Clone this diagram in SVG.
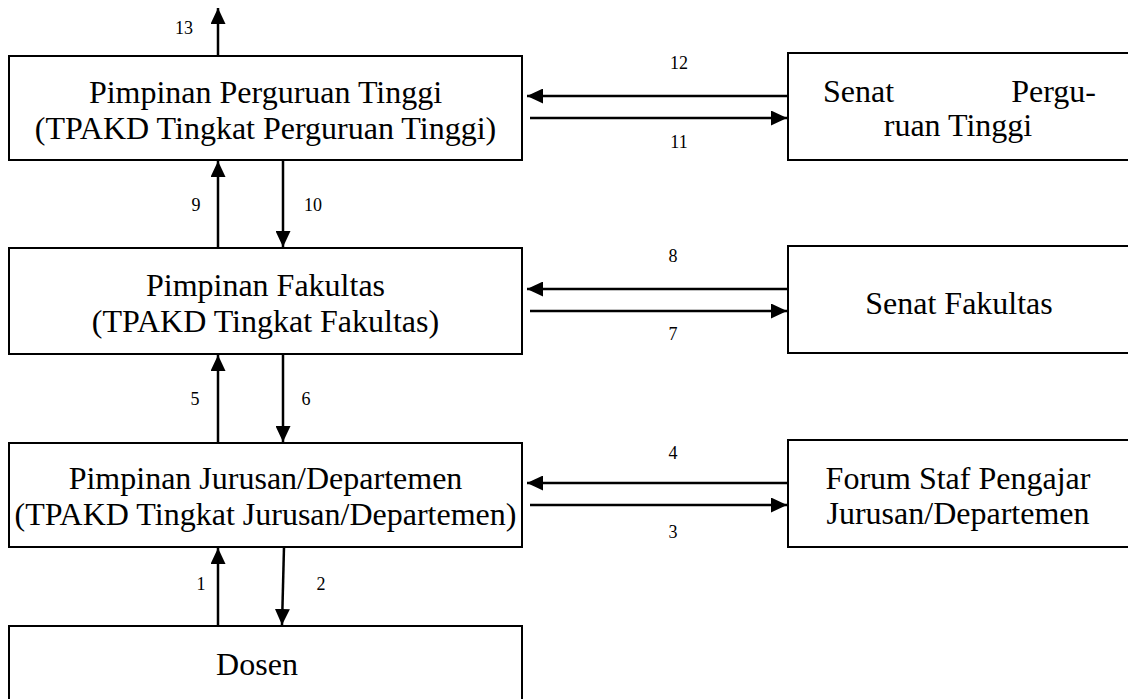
<svg xmlns="http://www.w3.org/2000/svg" width="1128" height="699" viewBox="0 0 1128 699">
<style>
.box{fill:#fff;stroke:#000;stroke-width:2}
.t{font-family:"Liberation Serif","Times New Roman",serif;font-size:32px;fill:#000;text-anchor:middle}
.n{font-family:"Liberation Serif","Times New Roman",serif;font-size:18px;fill:#000;text-anchor:middle}
.c{stroke:#000;stroke-width:2.5;fill:none;marker-end:url(#ah)}
</style>
<defs>
<marker id="ah" markerUnits="userSpaceOnUse" markerWidth="16" markerHeight="15" refX="16" refY="7.5" orient="auto">
<path d="M0,0 L16,7.5 L0,15 z" fill="#000"/>
</marker>
</defs>
<rect width="1128" height="699" fill="#fff"/>
<g id="n-pt">
<rect class="box" x="9" y="56" width="513" height="104"/>
<text class="t" x="265.5" y="103">Pimpinan Perguruan Tinggi</text>
<text class="t" x="265.5" y="139">(TPAKD Tingkat Perguruan Tinggi)</text>
</g>
<g id="n-fak">
<rect class="box" x="9" y="248" width="513" height="106"/>
<text class="t" x="265.5" y="296">Pimpinan Fakultas</text>
<text class="t" x="265.5" y="332">(TPAKD Tingkat Fakultas)</text>
</g>
<g id="n-jur">
<rect class="box" x="9" y="443" width="513" height="104"/>
<text class="t" x="265.5" y="489">Pimpinan Jurusan/Departemen</text>
<text class="t" x="265.5" y="525">(TPAKD Tingkat Jurusan/Departemen)</text>
</g>
<g id="n-dosen">
<rect class="box" x="9" y="626" width="513" height="90"/>
<text class="t" x="257" y="675">Dosen</text>
</g>
<g id="n-senat-pt">
<rect class="box" x="788" y="53" width="350" height="107"/>
<text class="t" x="823" y="102" style="text-anchor:start">Senat</text>
<text class="t" x="1096" y="102" style="text-anchor:end">Pergu-</text>
<text class="t" x="958" y="136">ruan Tinggi</text>
</g>
<g id="n-senat-fak">
<rect class="box" x="788" y="246" width="350" height="107"/>
<text class="t" x="959" y="314">Senat Fakultas</text>
</g>
<g id="n-forum">
<rect class="box" x="788" y="440" width="350" height="107"/>
<text class="t" x="958" y="489">Forum Staf Pengajar</text>
<text class="t" x="958" y="524">Jurusan/Departemen</text>
</g>
<g id="connectors">
<line class="c" x1="218" y1="56" x2="218" y2="8"/>
<line class="c" x1="218" y1="248" x2="218" y2="161"/>
<line class="c" x1="283" y1="160" x2="283" y2="247"/>
<line class="c" x1="218" y1="443" x2="218" y2="355"/>
<line class="c" x1="283" y1="354" x2="283" y2="442"/>
<line class="c" x1="218" y1="626" x2="218" y2="548"/>
<line class="c" x1="284" y1="547" x2="282" y2="625"/>
<line class="c" x1="788" y1="96" x2="527" y2="96"/>
<line class="c" x1="530" y1="118" x2="787" y2="118"/>
<line class="c" x1="788" y1="289" x2="527" y2="289"/>
<line class="c" x1="530" y1="311" x2="787" y2="311"/>
<line class="c" x1="788" y1="483" x2="527" y2="483"/>
<line class="c" x1="530" y1="505" x2="787" y2="505"/>
</g>
<g id="labels">
<text class="n" x="184" y="34">13</text>
<text class="n" x="196" y="211">9</text>
<text class="n" x="313" y="211">10</text>
<text class="n" x="195" y="405">5</text>
<text class="n" x="306" y="405">6</text>
<text class="n" x="201" y="590">1</text>
<text class="n" x="321" y="590">2</text>
<text class="n" x="679" y="69">12</text>
<text class="n" x="679" y="148">11</text>
<text class="n" x="673" y="262">8</text>
<text class="n" x="673" y="340">7</text>
<text class="n" x="673" y="459">4</text>
<text class="n" x="673" y="538">3</text>
</g>
</svg>
